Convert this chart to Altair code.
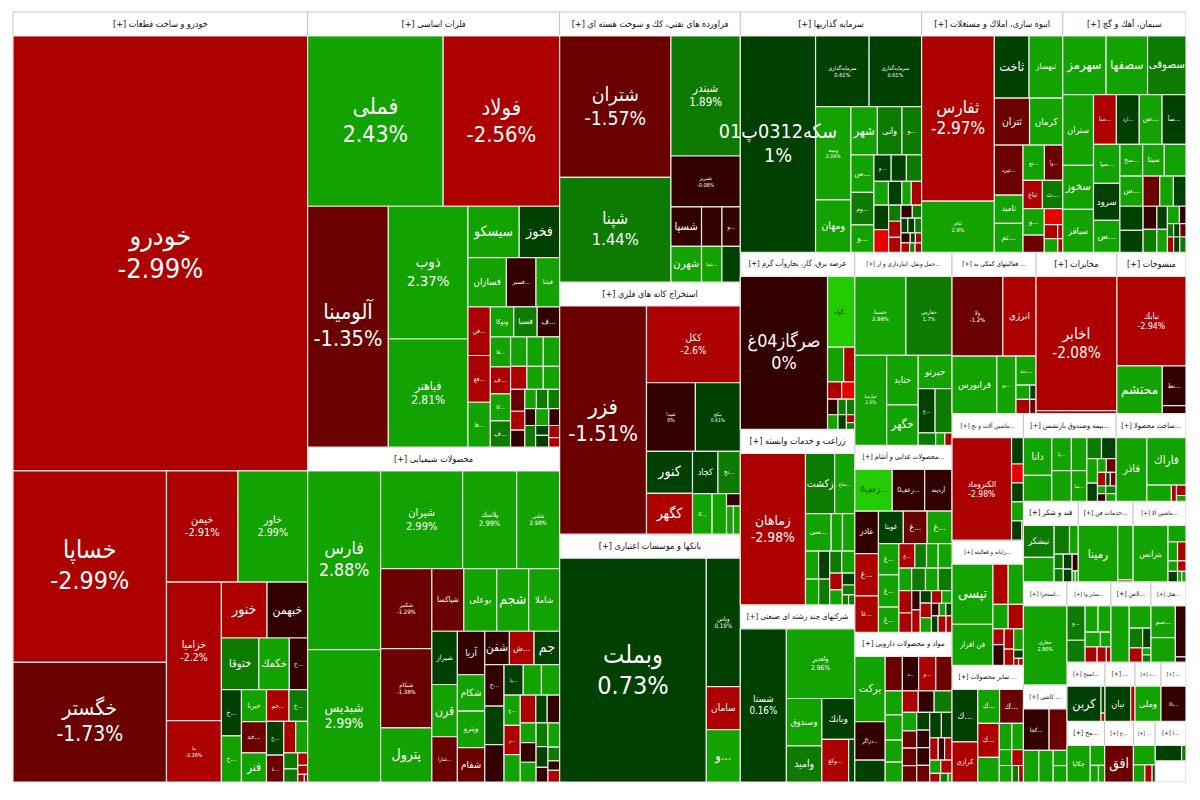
import altair as alt
import numpy as np
import pandas as pd

# colour-band estimates for cells that carry no readable percentage
B, R, D, K, E, M, G, L = -3.5, -2.5, -1.5, -0.5, 0.5, 1.5, 2.5, 3.5
BLANK = None

def H(*c): return {"d": "h", "c": c}
def V(*c): return {"d": "v", "c": c}
def S(title, weight, body): return {"title": title, "w": weight, "body": body}
def T(s):
    s = s.strip()
    n = s.count("(") - s.count(")")
    s = s + ")" * n if n > 0 else (s[:n] if n < 0 else s)
    return eval(s)

# Leaves: (symbol, traded value estimated from the cell, % change)
khodro = T('''V(("خودرو",127300,-2.99),
  H(V(("خساپا",29200,-2.99),("خگستر",18240,-1.73)),
    V(H(("خیمن",7900,-2.91),("خاور",7700,2.99)),
      H(V(("خزامیا",7560,-2.2),("ما",3350,-2.26)),
        V(H(("خنور",2530,R),("خبهمن",2255,K)),
          H(("ختوقا",1920,M),("خکمك",1560,G),("خ...",940,K)),
          H(V(("خ...",920,E),("خ...",920,G)),
            V(("خبرنا",800,G),("خد...",775,D),("فنر",725,G)),
            V(H(("خم...",713,R),("خ...",590,M)),
              H(V(("خ...",580,E),("نا...",460,D)),
                V(H(("",372,R),("",372,G)),
                  H(V(("",224,M),("",182,M)),V(("",121,R),("",88,R),H(("",50,R),("",25,R)''')

felezat = T('''V(H(("فملی",22800,2.43),("فولاد",19600,-2.56)),
  H(("آلومینا",19200,-1.35),
    V(("ذوب",10450,2.37),("فباهنر",8500,2.81)),
    V(H(("سیسکو",2600,G),("فخوز",2050,E)),
      H(("فسازان",1870,G),("فسبز...",1440,K),("فیتنا",1150,G)),
      H(V(("فن...",1078,R),("فغ...",1034,R),("فا...",990,G)),
        V(H(("وتوکا",696,G),("فسبا",696,M),("ف...",667,K)),
          H(V(("فا...",600,G),("ف...",540,R),("کا...",540,G),("ف...",520,M)),
            V(H(("",476,G),("",476,G),("",476,G)),
              H(("",374,R),("",374,G),("",374,G)),
              H(V(("",308,D),("",266,R),("",238,K)),
                V(H(("",220,G),("",220,M),("",220,M)),
                  H(("",180,K),("",220,G),("",180,K)),
                  H(("",230,M),V(("",130,E),("",150,E)),V(("",130,R),("",100,R)''')

shimi = T('''H(V(("فارس",12700,2.88),("شبدیس",9400,2.99)),
  V(H(("شیران",7790,2.99),("پلاسك",5130,2.99),("شلنی",4085,2.98)),
    H(V(("شکبیر",4000,-1.29),("شیکام",3950,-1.38),("پترول",2700,G)),
      V(H(("شپاکسا",1950,D),("بوعلی",2010,G),("شجم",1950,G),("شاملا",1890,G)),
        H(V(("شیراز",1325,E),("قرن",1300,G),("شارا...",1125,D)),
          V(("آریا",1160,K),("شکام",970,G),("ویترو",970,G),("شفام",918,D)),
          V(H(("شفن",800,K),("ش...",800,R),("جم",830,E)),
            H(V(("ج...",780,K),("",722,E),("",703,K)),
              V(H(("پا...",570,E),("",540,G),("",540,G)),
                H(V(("خ...",480,G),("ز...",464,R),("",432,G)),
                  V(H(("",420,R),("",308,E),("",336,K)),
                    H(V(("",304,G),("",304,K),("",304,G)),
                      V(("",276,M),("",240,E),("",168,K)),
                      V(("",276,G),("",156,M),("",108,K),("",132,R)''')

faravarde = T('''H(V(("شتران",15600,-1.57),("شپنا",11550,1.44)),
  V(("شبندر",8260,1.89),("شبریز",3500,-0.08),
    H(("شسپا",1200,K),("",800,K),("و...",720,K)),
    H(("شهرن",1080,G),("شپا...",720,G),("",650,E)''')

estekhraj = T('''H(("فزر",19400,-1.51),
  V(("ککل",7050,-2.6),
    H(("شپدا",3283,0),("بپکچ",3015,0.61)),
    H(V(("کنور",1890,E),("کگهر",1845,R)),
      V(H(("کچاد",1050,E),("تج...",924,M)),
        H(("کا...",780,G),("",574,G),V(("",170,K),H(("",190,G),("",190,G)''')

banks = T('''H(("وبملت",32700,0.73),V(("وپاس",4350,0.19),("سامان",1460,R),("و...",1770,G)''')

sarmaye = T('''H(("سکه0312پ01",15800,1),
  V(H(("سرمایه‌گذاری",3672,0.61),("سرمایه‌گذاری",3600,0.61)),
    H(V(("وبیمه",3200,2.09),("ومهان",1800,G)),
      V(H(("شهر",1240,G),("واتی",1150,M),("و...",920,M)),
        H(V(("س...",836,G),("وم...",726,M),("و...",616,G)),
          V(H(("و...",442,E),("",390,E),("",390,M)),
            H(("",336,G),("",312,E),("",216,G),("",240,R)),
            H(V(("",350,E),("",322,B)),V(("",192,M),("",192,R),("",180,R)),
              V(H(("",143,K),("",117,M)),H(("",98,E),("",98,E),("",98,M)),
                H(("",90,K),("",50,E),("",60,R)),H(("",80,R),("",50,M),("",60,R)''')

anbooh = T('''H(V(("ثفارس",11700,-2.97),("ثنام",3620,2.8)),
  V(H(("ثاخت",2100,E),("ثبهساز",2040,G)),
    H(("ثتران",1610,D),("کرمان",1520,G)),
    H(V(("ثپرد...",1400,D),("ثامید",784,G),("ثم...",812,G)),
      V(H(("ثع...",735,G),("وآ...",630,D)),
        H(("ثباغ",532,R),("ث...",560,M)),
        H(V(("و...",546,G),("",357,D)),
          V(("",288,B),H(("",182,R),("",70,R)),H(("",182,G),("",65,R)''')

siman = T('''V(H(("سهرمز",2400,G),("سصفها",2300,G),("سصوفی",2130,M)),
  H(V(("ستران",2060,G),("سخوز",1280,G),("سیاقر",1250,G)),
    V(H(("سا...",1078,R),("ارد...",1078,E),("س...",1078,G),("سآ...",1127,E)),
      H(V(("سپا...",975,G),("سرود",925,E),("س...",800,G)),
        V(H(("سخ...",682,G),("سیتا",650,G),("",650,G)),
          H(("س...",660,G),("",480,D),("",390,G),("",360,E)),
          H(V(("",528,E),("",484,E)),V(("",300,K),("",300,M)),V(("",230,E),("",230,G)),
            V(H(("",198,G),("",108,K)),H(("",78,M),("",78,E),("",78,D)),H(("",90,R),("",90,E),("",90,M)''')

bargh = T('''H(("صرگاز04غ",13000,0),
  V(("گواه...",1880,L),H(("",544,G),("",374,R)),H(("",238,R),("",221,B)),
    V(H(("",160,K),("",128,M),("",128,M)),H(("",150,G),("",120,E),V(("",64,R),("",56,M)''')

zeraat = T('''H(("زماهان",9450,-2.98),
  V(H(("زکشت",1680,M),("ساخ...",1160,G)),
    H(("سی...",925,G),("",407,G),("",444,G)),
    H(V(("",351,G),("",325,G)),V(("",297,E),("",275,M)),
      V(H(("",252,M),("",273,G)),
        H(V(("",204,R),("",180,G)),V(("",143,E),("",117,M),H(("",60,M),("",60,M)''')

sherkat = T('''H(("شستا",6750,0.16),
  V(("ولغدیر",4556,2.96),
    H(V(("وصندوق",1610,G),("وامید",1225,M)),
      V(("وبانك",1287,E),H(("وکغ...",1092,R),("",252,E)''')

haml = T('''V(H(("حسینا",3800,2.98),("حفارس",3420,1.7)),
  H(("حپارسا",2700,2.8),V(("حتاید",1470,G),("حگهر",1200,G)),
    V(("حپرتو",1056,G),H(("ح...",704,E),("",704,M)),H(("",204,M),("",108,G),("",84,R)''')

ghaza = T('''V(H(("زعف0...",1440,L),("زعف0...",1248,K),("آردینه",1053,K)),
  H(V(("غاذر",924,K),("غ...",924,R),("غا...",792,R)),
    V(H(("غویتا",744,E),("غ...",713,D),("غ...",744,G)),
      H(V(("غ...",589,G),("غ...",608,G),("غ...",475,G)),
        V(H(("غ...",360,R),("",264,M),("",264,G),("",312,G)),
          H(("",264,G),("",286,M),("",264,G),("",286,M)),
          H(V(("",264,R),("",228,R)),V(("",152,K),("",176,R)),
            V(("",130,E),("",150,R),("",150,G)),
            V(H(("",120,R),("",120,G)),H(("",90,K),("",78,G),("",72,E)),H(("",100,E),("",120,R),("",90,R)''')

daroo = T('''H(V(("برکت",1764,G),("دزاگر...",1036,K),("",588,E)),
  V(H(("",527,D),("د...",496,K),("و...",527,R),("",496,D)),
    H(V(("",368,G),("",384,G),("",336,G),("",304,G)),
      V(H(("",304,R),("",304,K),("",342,M)),
        H(V(("",234,G),("",221,D),("",221,D),("",208,D)),
          V(("",204,E),("",204,K),("",204,K),("",192,D)),
          V(H(("",264,E),("",240,E)),H(("",168,R),("",126,K),("",147,R)),H(("",130,G),("",132,R)),H(("",80,R),("",60,M),("",30,G)''')

komaki = T('''V(H(("ولا",3773,-1.2),("انرژی",2464,R)),
  H(("فرابورس",2400,G),("بو...",1026,G),
    V(("ت...",540,G),H(("",182,G),("",84,E)),H(("",182,R),("",84,D)''')

mokhaberat = T('''V(("اخابر",10480,-2.08),("",240,R)''')

mansoojat = T('''V(("نبابك",5916,-2.94),H(("محتشم",2068,G),V(("نط...",897,K),("",184,K)''')

mashin1 = T('''H(("الکتروماد",5860,-2.98),V(("",300,E),("",216,B),("",216,E),("",216,G),H(("",190,E),("",30,R)''')

rayane = T('''H(V(("تپسی",2166,G),("فن افزار",1482,G)),
  V(H(("",540,R),("",540,G)),H(("",330,G),("",330,R)),
    H(V(("",156,R),("",204,K)),V(("",168,R),("",136,R)),V(("",180,G),("",72,E),H(("",30,R),("",30,R)''')

sayer1 = T('''H(V(("ك...",1224,E),("کرازی",936,R)),
  V(H(("ك...",672,G),("ك...",736,D)),
    H(V(("ك...",660,R),("",480,G)),
      V(H(("",300,G),("",275,G)),H(("",180,G),("",165,R)),H(("",192,G),("",96,M),("",72,R)''')

bime = T('''H(V(("دانا",945,G),("",648,G)),V(("پا...",570,G),("",532,G)),V(("",450,G),("سا...",420,G)),
  V(H(("",270,M),("",270,E)),
    H(V(("",230,G),("",170,E)),
      V(H(("",108,G),("",120,D)),H(("",98,R),("",56,E),("",70,D)),H(("",56,G),("",70,M)),H(("",56,K),("",70,G)''')

sakht = T('''H(("فاذر",1770,G),V(("فاراك",1677,G),H(("",360,G),("",75,R),V(("",90,R),("",50,G)''')

qand = T('''H(V(("نیشکر",870,M),("",667,G)),
  V(H(("",392,M),("",224,G)),
    H(V(("",117,M),("",108,M)),V(("",117,E),("",99,E)),V(("",90,K),H(("",30,G),("",30,G)''')

khadamat = T('''H(("رمینا",1980,G),V(("",742,G),("",28,R)''')

mashin2 = T('''H(("بترانس",1782,G),V(("",270,G),H(("",162,G),("",144,R)),H(("",90,G),("",80,R)),H(("",90,E),("",40,G),("",40,G)''')

estekhraj2 = T('''V(("حفاری",3040,2.86)''')

kashi = T('''V(H(("کجا...",920,K),("",640,D)),H(("",420,G),("",390,G),V(("",180,G),("",195,G)''')

sayer2 = T('''H(V(("و...",528,M),("",336,M)),
  V(H(("",288,G),("",288,G)),H(("",190,G),("",130,G)),H(("",156,R),("",120,R),("",60,R)''')

las = T('''H(("",935,G),V(("",441,G),H(("",240,M),("",150,E)),H(("",170,R),V(("",56,G),("",56,M)''')

hotel = T('''H(V(("سم...",690,G),("",530,G)),V(("",480,K),("",50,K)''')

karbon = T('''H(("کربن",1120,E),V(("",100,E),("",30,R)''')
nayan = T('''H(("نیان",840,E),("",140,R)''')
melli = T('''V(("وملی",910,G)''')
bala = T('''V(("بالا...",805,K)''')
chekapa = T('''H(("چکاپا",748,G),V(("",252,G),H(("",120,G),("",90,G)''')
ofogh = T('''V(("افق",918,D)''')
small1 = T('''V(("",360,G),H(("",165,G),("",105,R),("",45,E)''')
small2 = T('''V(H(("",300,E),("",50,M)),H(("",360,BLANK),V(("",60,BLANK),("",60,BLANK)''')

tree = H(
  S("خودرو و ساخت قطعات",226000,khodro),
  V(S("فلزات اساسی",109200,felezat),S("محصولات شیمیایی",84100,shimi)),
  V(S("فراورده هاي نفتي، كك و سوخت هسته اي",48600,faravarde),
    S("استخراج كانه هاي فلزي",45400,estekhraj),S("بانکها و موسسات اعتباری",44600,banks)),
  V(H(S("سرمایه گذاریها",43400,sarmaye),S("انبوه سازی، املاك و مستغلات",33800,anbooh),S("سیمان، آهك و گچ",29500,siman)),
    H(V(S("عرضه برق، گاز، بخاروآب گرم",20200,bargh),S("زراعت و خدمات وابسته",20000,zeraat),S("شرکتهای چند رشته ای صنعتی",20200,sherkat)),
      V(S("...حمل ونقل، انبارداری و ار",18700,haml),S("...محصولات غذایی و آشام",18100,ghaza),S("مواد و محصولات دارویی",14500,daroo)),
      V(H(S("... فعالیتهای کمکی به",13500,komaki),S("مخابرات",13000,mokhaberat),S("منسوجات",11100,mansoojat)),
        H(V(S("...ماشین آلات و تج",9000,mashin1),S("...رایانه و فعالیته",8900,rayane),S("... سایر محصولات",8300,sayer1)),
          V(H(S("...بیمه وصندوق بازنشس",8100,bime),S("...ساخت محصولا",6100,sakht)),
            H(S("قند و شکر",4400,qand),S("...خدمات فن",4400,khadamat),S("...ماشین آلا",4240,mashin2)),
            H(V(S("...استخرا",4470,estekhraj2),S("... کاشی",4210,kashi)),
              V(H(S("...سایر وا",3520,sayer2),S("...لاس",3200,las),S("...هتل",2800,hotel)),
                H(S("...استخ",2240,karbon),S("...",1770,nayan),S("...د",1530,melli),S("...",1475,bala)),
                H(S("...مح",2280,chekapa),S("...خ",1740,ofogh),S("...",1320,small1),S("...ا",1860,small2))
              )
            )
          )
        )
      )
    )
  )
)

pct_labels = ["خودرو","خساپا","خگستر","خیمن","خاور","خزامیا","ما","فملی","فولاد","آلومینا","ذوب","فباهنر",
  "فارس","شبدیس","شیران","پلاسك","شلنی","شکبیر","شیکام","شتران","شپنا","شبندر","شبریز","فزر","ککل","شپدا","بپکچ",
  "وبملت","وپاس","سکه0312پ01","سرمایه‌گذاری","وبیمه","ثفارس","ثنام","صرگاز04غ","زماهان","شستا","ولغدیر","حسینا",
  "حفارس","حپارسا","ولا","اخابر","نبابك","الکتروماد","حفاری"]

W, HT = 1173, 770
HEAD = 24

def weight(n):
    if isinstance(n, tuple): return n[1]
    if "title" in n: return n["w"]
    return sum(weight(c) for c in n["c"])

leaves, sectors = [], []

def walk(n, x0, y0, x1, y1):
    if isinstance(n, tuple):
        leaves.append(dict(name=n[0], area=n[1], pct=n[2], x0=x0, y0=y0, x1=x1, y1=y1))
        return
    if "title" in n:
        sectors.append(dict(title="[+] \u200f" + n["title"], x0=x0, y0=y0, x1=x1, y1=y1))
        walk(n["body"], x0, y0 + HEAD, x1, y1)
        return
    total = sum(weight(c) for c in n["c"])
    pos = x0 if n["d"] == "h" else y0
    span = (x1 - x0) if n["d"] == "h" else (y1 - y0)
    for c in n["c"]:
        step = span * weight(c) / total
        if n["d"] == "h":
            walk(c, pos, y0, pos + step, y1)
        else:
            walk(c, x0, pos, x1, pos + step)
        pos += step

walk(tree, 0, 0, W, HT)

df = pd.DataFrame(leaves)
df["w"] = df.x1 - df.x0
df["h"] = df.y1 - df.y0
df["xc"] = (df.x0 + df.x1) / 2
df["yc"] = (df.y0 + df.y1) / 2
df["cellarea"] = df.w * df.h
df["haspct"] = df.name.isin(pct_labels)
big = np.interp(df.cellarea, [2500, 4200, 8000, 12000, 20000, 30000, 130000], [4.5, 6, 11, 17, 22, 25, 27])
small = np.minimum(np.minimum(14, (df.w - 3) / (0.62 * df.name.str.len().clip(lower=1))), df.h * 0.6)
df["fs"] = np.where(df.haspct, big, small.clip(lower=5))
df["ytext"] = np.where(df.haspct, df.yc - df.fs * 0.62, df.yc)
df["ypct"] = df.yc + df.fs * 0.62
df["pct"] = df.pct.astype(float)
df["pcttext"] = df.pct.map(lambda p: "" if pd.isna(p) else f"{p:g}%")
sec = pd.DataFrame(sectors)
sec["xc"] = (sec.x0 + sec.x1) / 2
sec["yc"] = sec.y0 + HEAD / 2
sec["fs"] = np.clip((sec.x1 - sec.x0 - 6) / (0.46 * sec.title.str.len()), 5, 9)

xs = alt.Scale(domain=[0, W], nice=False, zero=False)
ys = alt.Scale(domain=[HT, 0], nice=False, zero=False)
FONT = "Liberation Sans Narrow, DejaVu Sans Condensed, DejaVu Sans"

base_sec = alt.Chart(sec).mark_rect(fill="white", stroke="#c6c6c6", strokeWidth=1).encode(
    x=alt.X("x0:Q", scale=xs, axis=None), x2="x1:Q",
    y=alt.Y("y0:Q", scale=ys, axis=None), y2="y1:Q")

head = alt.Chart(sec).mark_text(font=FONT, color="#111", baseline="middle", align="center").encode(
    x=alt.X("xc:Q", scale=xs, axis=None), y=alt.Y("yc:Q", scale=ys, axis=None), text="title:N",
    size=alt.Size("fs:Q", scale=None, legend=None))

cells = alt.Chart(df[df.pct.notna()]).mark_rect(stroke="#e8e8e8", strokeWidth=1.2).encode(
    x=alt.X("x0:Q", scale=xs, axis=None), x2="x1:Q",
    y=alt.Y("y0:Q", scale=ys, axis=None), y2="y1:Q",
    color=alt.Color("pct:Q", legend=None, scale=alt.Scale(
        type="threshold", domain=[-3, -2, -1, 0.001, 1.01, 2, 3],
        range=["#e60000", "#ad0000", "#6b0000", "#330000", "#004000", "#0d7a00", "#13a300", "#22cc00"])))

txtcolor = alt.condition("datum.pct > 3", alt.value("#103000"), alt.value("white"))

names = alt.Chart(df[df.name != ""]).mark_text(font=FONT, baseline="middle", align="center").encode(
    x=alt.X("xc:Q", scale=xs, axis=None), y=alt.Y("ytext:Q", scale=ys, axis=None),
    text="name:N", size=alt.Size("fs:Q", scale=None, legend=None), color=txtcolor)

pcts = alt.Chart(df[df.haspct]).mark_text(font=FONT, baseline="middle", align="center", color="white").encode(
    x=alt.X("xc:Q", scale=xs, axis=None), y=alt.Y("ypct:Q", scale=ys, axis=None),
    text="pcttext:N", size=alt.Size("fs:Q", scale=None, legend=None))

chart = alt.layer(base_sec, cells, head, names, pcts).properties(
    width=W, height=HT, padding={"left": 5, "top": 4, "right": 0, "bottom": 0},
    autosize=alt.AutoSizeParams(type="none"), background="white"
).configure_view(stroke=None)

chart.save("out.html", embed_options={"renderer": "svg", "actions": False})
